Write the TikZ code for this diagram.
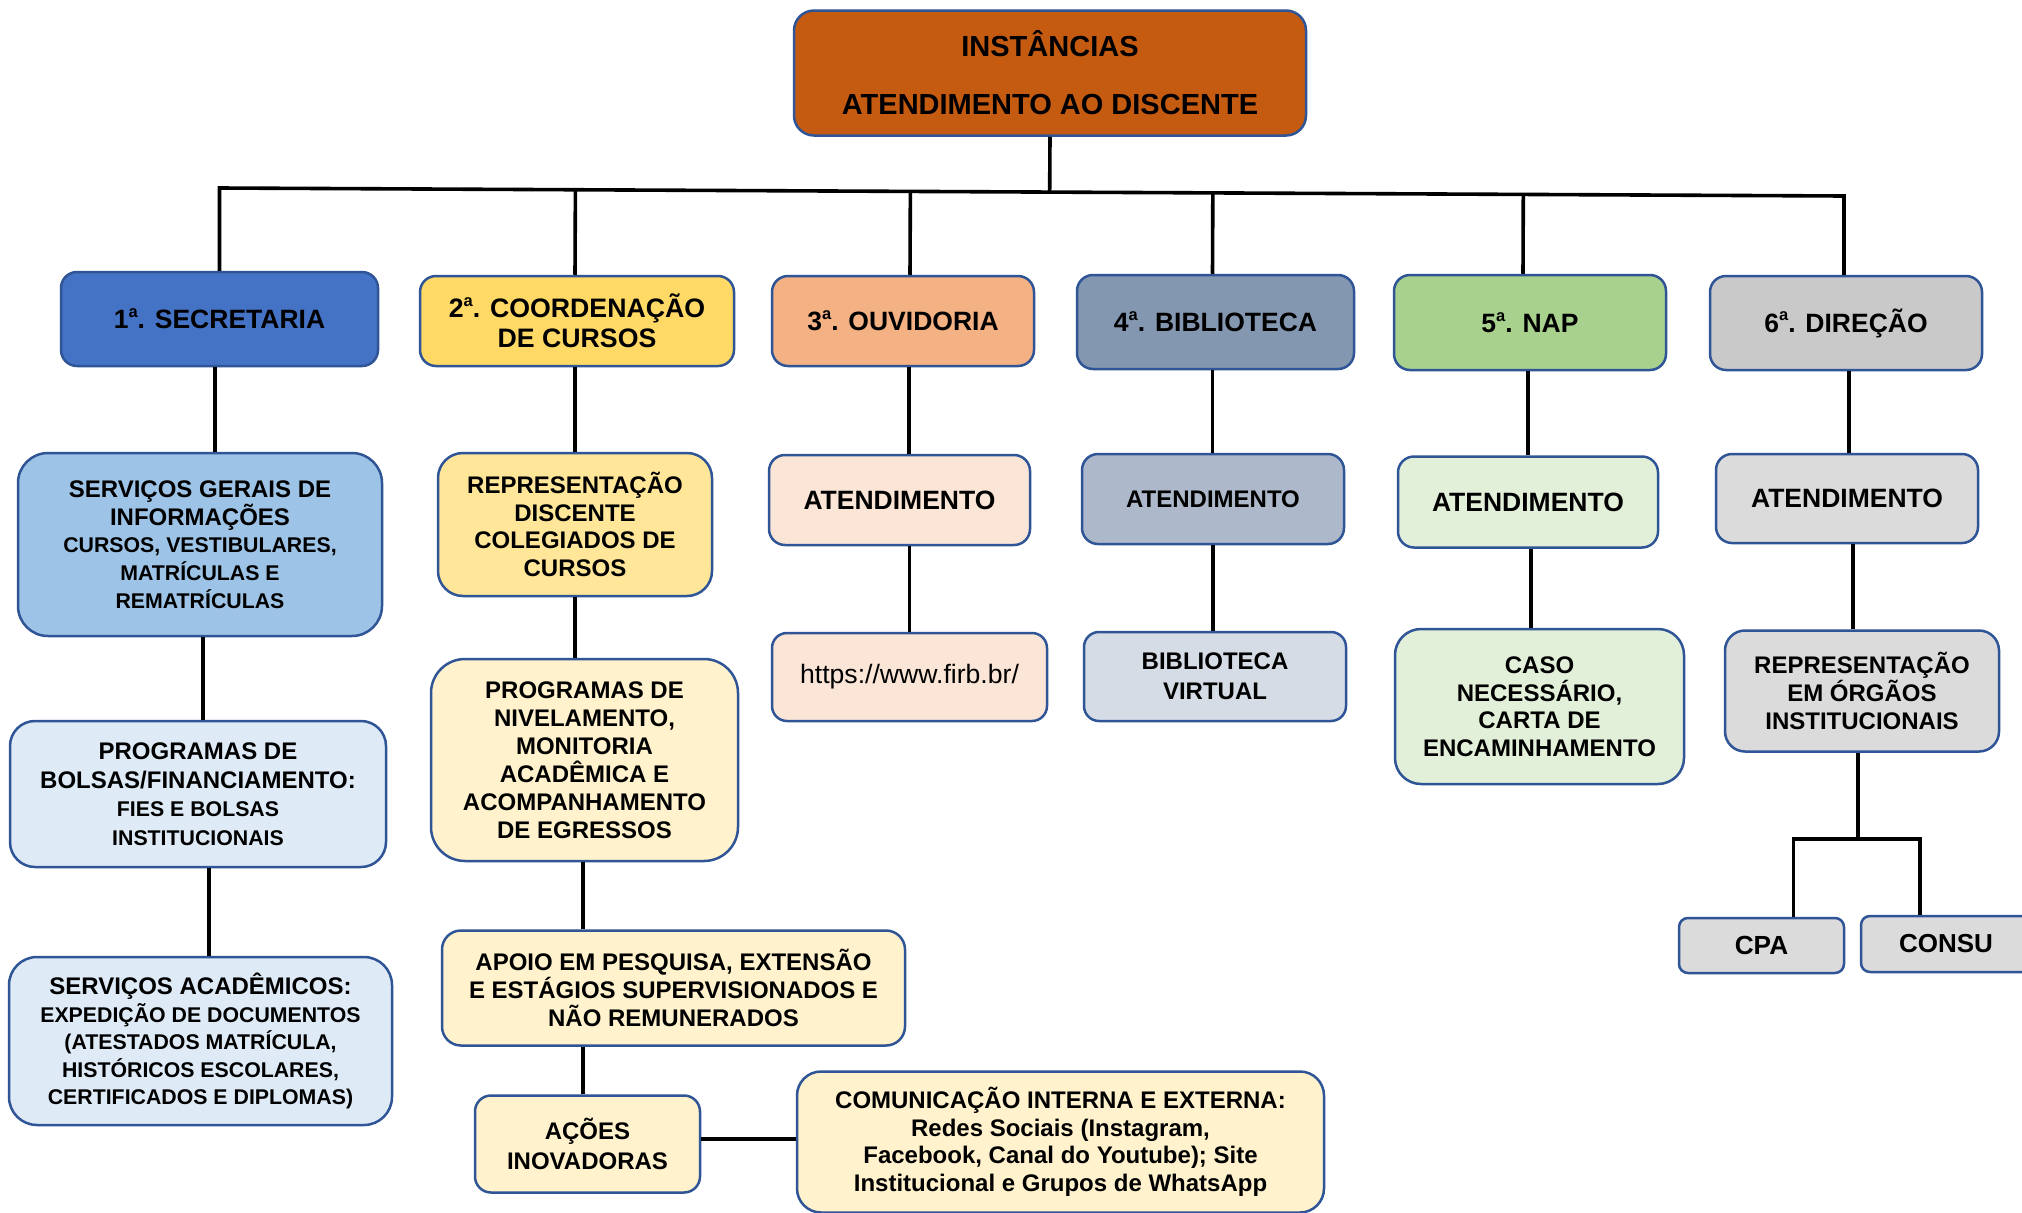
\documentclass[tikz,border=0pt]{standalone}
\usepackage{fontspec}
\usetikzlibrary{calc}
\setmainfont{Liberation Sans}
\definecolor{bord}{HTML}{2F5597}
\definecolor{cTop}{HTML}{C55A11}
\definecolor{cSec}{HTML}{4472C4}
\definecolor{cCoo}{HTML}{FFD966}
\definecolor{cOuv}{HTML}{F4B183}
\definecolor{cBib}{HTML}{8497B0}
\definecolor{cNap}{HTML}{A9D18E}
\definecolor{cDir}{HTML}{C9C9C9}
\definecolor{cSecL}{HTML}{9DC3E6}
\definecolor{cCooL}{HTML}{FFE699}
\definecolor{cOuvL}{HTML}{FBE5D6}
\definecolor{cBibL}{HTML}{ADB9CA}
\definecolor{cNapL}{HTML}{E2F0D9}
\definecolor{cDirL}{HTML}{DBDBDB}
\definecolor{cSecXL}{HTML}{DEEBF7}
\definecolor{cCooXL}{HTML}{FFF2CC}
\definecolor{cBibXL}{HTML}{D6DCE5}
\newcommand{\fs}[2]{\fontsize{#1}{#2}\selectfont}
\newcommand{\ordsup}{\raisebox{0.42em}{\fs{16.5}{16.5}a}}
\tikzset{
  bx/.style={draw=bord, line width=2.5pt, align=center, inner sep=0pt},
  cn/.style={line width=3.6pt, draw=black},
}
\begin{document}
\begin{tikzpicture}[x=1pt,y=-1pt]
\clip (0,0) rectangle (2022,1213);
\fill[white] (0,0) rectangle (2022,1213);

% top
\node[bx, fill=cTop, minimum width=512pt, minimum height=125pt, rounded corners=20pt,
  font=\bfseries\fs{29}{58}] (top) at (1050,73) {INSTÂNCIAS\\ATENDIMENTO AO DISCENTE};

% level 1
\node[bx, fill=cSec, minimum width=317pt, minimum height=94pt, rounded corners=16pt,
  font=\bfseries\fs{26.5}{30}] (l1a) at (219.5,319) {1\ordsup. SECRETARIA};
\node[bx, fill=cCoo, minimum width=314pt, minimum height=90pt, rounded corners=16pt,
  font=\bfseries\fs{26.7}{29.7}] (l1b) at (577,321) {2\ordsup. COORDENAÇÃO\\DE CURSOS};
\node[bx, fill=cOuv, minimum width=262pt, minimum height=90pt, rounded corners=16pt,
  font=\bfseries\fs{26.5}{30}] (l1c) at (903,321) {3\ordsup. OUVIDORIA};
\node[bx, fill=cBib, minimum width=277pt, minimum height=94pt, rounded corners=16pt,
  font=\bfseries\fs{26.5}{30}] (l1d) at (1215.5,322) {4\ordsup. BIBLIOTECA};
\node[bx, fill=cNap, minimum width=272pt, minimum height=95pt, rounded corners=16pt,
  font=\bfseries\fs{26.5}{30}] (l1e) at (1530,322.5) {5\ordsup. NAP};
\node[bx, fill=cDir, minimum width=272pt, minimum height=94pt, rounded corners=16pt,
  font=\bfseries\fs{26.5}{30}] (l1f) at (1846,323) {6\ordsup. DIREÇÃO};

% level 2
\node[bx, fill=cSecL, minimum width=364pt, minimum height=183pt, rounded corners=30pt,
  font=\bfseries\fs{24}{27.7}] (l2a) at (200,544.5)
  {SERVIÇOS GERAIS DE\\INFORMAÇÕES\\{\fs{21.3}{27.7}CURSOS, VESTIBULARES,}\\{\fs{21.3}{27.7}MATRÍCULAS E}\\{\fs{21.3}{27.7}REMATRÍCULAS}};
\node[bx, fill=cCooL, minimum width=274pt, minimum height=143pt, rounded corners=25pt,
  font=\bfseries\fs{24}{27.5}] (l2b) at (575,524.5)
  {REPRESENTAÇÃO\\DISCENTE\\COLEGIADOS DE\\CURSOS};
\node[bx, fill=cOuvL, minimum width=261pt, minimum height=90pt, rounded corners=16pt,
  font=\bfseries\fs{26.5}{30}] (l2c) at (899.5,500) {ATENDIMENTO};
\node[bx, fill=cBibL, minimum width=262pt, minimum height=90pt, rounded corners=16pt,
  font=\bfseries\fs{24}{28}] (l2d) at (1213,499) {ATENDIMENTO};
\node[bx, fill=cNapL, minimum width=260pt, minimum height=91pt, rounded corners=16pt,
  font=\bfseries\fs{26.5}{30}] (l2e) at (1528,502) {ATENDIMENTO};
\node[bx, fill=cDirL, minimum width=262pt, minimum height=89pt, rounded corners=16pt,
  font=\bfseries\fs{26.5}{30}] (l2f) at (1847,498.5) {ATENDIMENTO};

% level 3
\node[bx, fill=cSecXL, minimum width=376pt, minimum height=146pt, rounded corners=25pt,
  font=\bfseries\fs{24}{28.5}] (l3a) at (198,794)
  {PROGRAMAS DE\\BOLSAS/FINANCIAMENTO:\\{\fs{21.3}{27.5}FIES E BOLSAS}\\{\fs{21.3}{27.5}INSTITUCIONAIS}};
\node[bx, fill=cCooXL, minimum width=307pt, minimum height=202pt, rounded corners=34pt,
  font=\bfseries\fs{24}{27.9}] (l3b) at (584.5,760)
  {PROGRAMAS DE\\NIVELAMENTO,\\MONITORIA\\ACADÊMICA E\\ACOMPANHAMENTO\\DE EGRESSOS};
\node[bx, fill=cOuvL, minimum width=275pt, minimum height=88pt, rounded corners=15pt,
  font=\fs{26.6}{30}] (l3c) at (909.5,677) {https://www.firb.br/};
\node[bx, fill=cBibXL, minimum width=262pt, minimum height=89pt, rounded corners=15pt,
  font=\bfseries\fs{24}{29.6}] (l3d) at (1215,676.5) {BIBLIOTECA\\VIRTUAL};
\node[bx, fill=cNapL, minimum width=289pt, minimum height=155pt, rounded corners=26pt,
  font=\bfseries\fs{24}{27.5}] (l3e) at (1539.5,706.5)
  {CASO\\NECESSÁRIO,\\CARTA DE\\ENCAMINHAMENTO};
\node[bx, fill=cDirL, minimum width=274pt, minimum height=121pt, rounded corners=20pt,
  font=\bfseries\fs{24}{28}] (l3f) at (1862,691)
  {REPRESENTAÇÃO\\EM ÓRGÃOS\\INSTITUCIONAIS};

% level 4
\node[bx, fill=cSecXL, minimum width=383pt, minimum height=168pt, rounded corners=28pt,
  font=\bfseries\fs{24}{27.5}] (l4a) at (200.5,1041)
  {SERVIÇOS ACADÊMICOS:\\{\fs{21.3}{27.5}EXPEDIÇÃO DE DOCUMENTOS}\\{\fs{21.3}{27.5}(ATESTADOS MATRÍCULA,}\\{\fs{21.3}{27.5}HISTÓRICOS ESCOLARES,}\\{\fs{21.3}{27.5}CERTIFICADOS E DIPLOMAS)}};
\node[bx, fill=cCooXL, minimum width=463pt, minimum height=115pt, rounded corners=19pt,
  font=\bfseries\fs{24}{28.4}] (l4b) at (673.5,988)
  {APOIO EM PESQUISA, EXTENSÃO\\E ESTÁGIOS SUPERVISIONADOS E\\NÃO REMUNERADOS};
\node[bx, fill=cDirL, minimum width=165pt, minimum height=55pt, rounded corners=9pt,
  font=\bfseries\fs{26.2}{30}] (cpa) at (1761.5,945.5) {CPA};
\node[bx, fill=cDirL, minimum width=170pt, minimum height=56pt, rounded corners=9pt,
  font=\bfseries\fs{26}{30}] (consu) at (1946,944) {CONSU};

% level 5
\node[bx, fill=cCooXL, minimum width=225pt, minimum height=97pt, rounded corners=16pt,
  font=\bfseries\fs{24}{29.7}] (l5a) at (587.5,1144) {AÇÕES\\INOVADORAS};
\node[bx, fill=cCooXL, minimum width=527pt, minimum height=141pt, rounded corners=24pt,
  font=\bfseries\fs{24}{27.5}] (l5b) at (1060.5,1142)
  {COMUNICAÇÃO INTERNA E EXTERNA:\\Redes Sociais (Instagram,\\Facebook, Canal do Youtube); Site\\Institucional e Grupos de WhatsApp};

% connectors
\coordinate (barL) at (219.5,188);
\coordinate (barR) at (1844,196);
\coordinate (split) at (0,839);
\draw[cn] (top.south) -- ($(barL)!(top.south)!(barR)$);
\draw[cn] (l1a.north) -- (barL) -- (barR) -- ([xshift=-2pt]l1f.north);
\draw[cn] ([xshift=-2pt]l1b.north) -- ($(barL)!([xshift=-2pt]l1b.north)!(barR)$);
\draw[cn] ([xshift=7pt]l1c.north) -- ($(barL)!([xshift=7pt]l1c.north)!(barR)$);
\draw[cn] ([xshift=-3pt]l1d.north) -- ($(barL)!([xshift=-3pt]l1d.north)!(barR)$);
\draw[cn] ([xshift=-7pt]l1e.north) -- ($(barL)!([xshift=-7pt]l1e.north)!(barR)$);

\draw[cn] ([xshift=-4.5pt]l1a.south) -- ([xshift=-4.5pt]l1a.south |- l2a.north);
\draw[cn] ([xshift=5pt]l3a.north) -- ([xshift=5pt]l3a.north |- l2a.south);
\draw[cn] ([xshift=11pt]l3a.south) -- ([xshift=11pt]l3a.south |- l4a.north);

\draw[cn] ([xshift=-2pt]l1b.south) -- ([xshift=-2pt]l1b.south |- l2b.north);
\draw[cn] (l2b.south) -- (l2b.south |- l3b.north);
\draw[cn] ([xshift=-1.5pt]l3b.south) -- ([xshift=-1.5pt]l3b.south |- l4b.north);
\draw[cn] ([xshift=-4.5pt]l5a.north) -- ([xshift=-4.5pt]l5a.north |- l4b.south);
\draw[cn] ([yshift=5pt]l5a.east) -- ([yshift=5pt]l5a.east -| l5b.west);

\draw[cn] ([xshift=6pt]l1c.south) -- ([xshift=6pt]l1c.south |- l2c.north);
\draw[cn] (l3c.north) -- (l3c.north |- l2c.south);

\draw[cn] ([xshift=-3pt]l1d.south) -- ([xshift=-3pt]l1d.south |- l2d.north);
\draw[cn] (l2d.south) -- (l2d.south |- l3d.north);

\draw[cn] ([xshift=-2pt]l1e.south) -- ([xshift=-2pt]l1e.south |- l2e.north);
\draw[cn] ([xshift=3pt]l2e.south) -- ([xshift=3pt]l2e.south |- l3e.north);

\draw[cn] ([xshift=3pt]l1f.south) -- ([xshift=3pt]l1f.south |- l2f.north);
\draw[cn] ([xshift=6pt]l2f.south) -- ([xshift=6pt]l2f.south |- l3f.north);
\draw[cn] ([xshift=-4pt]l3f.south) -- ([xshift=-4pt]l3f.south |- split);
\draw[cn] ([xshift=32pt]cpa.north) -- ([xshift=32pt]cpa.north |- split)
  -- ([xshift=-26pt]consu.north |- split) -- ([xshift=-26pt]consu.north);
\end{tikzpicture}
\end{document}
